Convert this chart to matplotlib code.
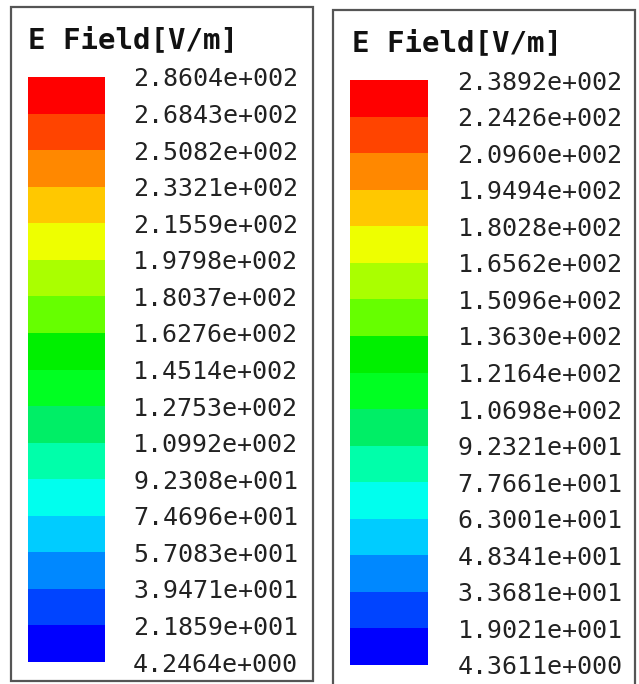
import matplotlib
matplotlib.use('Agg')
from matplotlib import pyplot as plt
from matplotlib.colors import ListedColormap, BoundaryNorm
from matplotlib.patches import Rectangle
import matplotlib.colorbar as mcb

# datos de las dos leyendas (de abajo hacia arriba)
valoresIzq = [4.2464, 21.859, 39.471, 57.083, 74.696, 92.308, 109.92, 127.53,
              145.14, 162.76, 180.37, 197.98, 215.59, 233.21, 250.82, 268.43, 286.04]
valoresDer = [4.3611, 19.021, 33.681, 48.341, 63.001, 77.661, 92.321, 106.98,
              121.64, 136.30, 150.96, 165.62, 180.28, 194.94, 209.60, 224.26, 238.92]
colores = ['#0000ff', '#0044ff', '#0088ff', '#00ccff', '#00ffee', '#00ffaa',
           '#00ee66', '#00ff22', '#00f000', '#66ff00', '#aaff00', '#eeff00',
           '#ffc800', '#ff8800', '#ff4400', '#ff0000']
titulo = 'E Field[V/m]'

W, H = 639, 684

def formato(v):
    # estilo HFSS: mantisa con 4 decimales y exponente de 3 digitos
    m, e = ('%.4e' % v).split('e')
    return '%se%s%03d' % (m, e[0], abs(int(e)))

def px(x0, y0, x1, y1):
    # convierte pixeles (origen arriba) a fraccion de figura
    return [x0 / W, 1 - y1 / H, (x1 - x0) / W, (y1 - y0) / H]

fig = plt.figure(figsize=(W / 100, H / 100), dpi=100)
fig.patch.set_facecolor('white')

paneles = [
    (valoresIzq, (11, 7, 313, 681), (28, 77, 105, 662), (28, 40), 139),
    (valoresDer, (333, 10, 635, 688), (350, 80, 428, 665), (352, 43), 140),
]

for valores, caja, barra, tpos, pad in paneles:
    # marco de la leyenda
    x0, y0, x1, y1 = caja
    fig.patches.append(Rectangle((x0 / W, 1 - y1 / H), (x1 - x0) / W, (y1 - y0) / H,
                                 transform=fig.transFigure, fill=False,
                                 edgecolor='#555555', linewidth=1.6))
    fig.text(tpos[0] / W, 1 - tpos[1] / H, titulo, family='DejaVu Sans Mono',
             fontsize=21, fontweight='bold', va='center', ha='left', color='#111111')

    ax = fig.add_axes(px(*barra))
    cmap = ListedColormap(colores)
    norm = BoundaryNorm(valores, cmap.N)
    cb = mcb.ColorbarBase(ax, cmap=cmap, norm=norm, boundaries=valores,
                          ticks=valores, spacing='uniform', orientation='vertical')
    cb.outline.set_visible(False)
    cb.set_ticklabels([formato(v) for v in valores])
    ax.yaxis.set_tick_params(length=0, pad=pad)
    for lbl in ax.get_yticklabels():
        lbl.set_horizontalalignment('right')
        lbl.set_family('DejaVu Sans Mono')
        lbl.set_fontsize(18)
        lbl.set_color('#222222')

fig.savefig('out.png', dpi=100)
